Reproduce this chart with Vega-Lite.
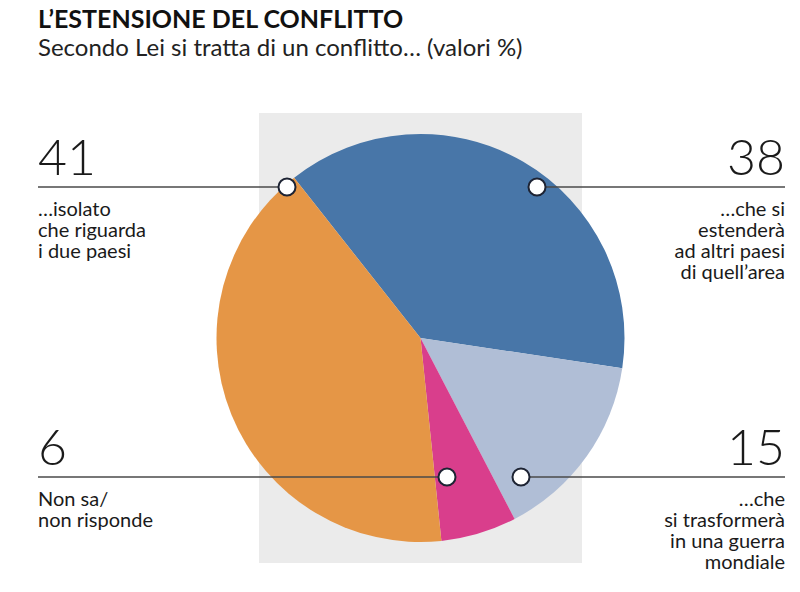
{
  "$schema": "https://vega.github.io/schema/vega-lite/v6.json",
  "autosize": "none",
  "width": 323,
  "height": 450,
  "padding": {"left": 259, "top": 113, "right": 218, "bottom": 29},
  "background": "white",
  "title": {
    "text": "L’ESTENSIONE DEL CONFLITTO",
    "subtitle": "Secondo Lei si tratta di un conflitto… (valori %)",
    "anchor": "start",
    "frame": "group",
    "dx": -221,
    "offset": 52,
    "font": "Lato",
    "fontSize": 25,
    "fontWeight": "bold",
    "color": "#111111",
    "subtitleFont": "Lato",
    "subtitleFontSize": 24,
    "subtitleColor": "#222222",
    "subtitlePadding": 4
  },
  "data": {
    "values": [
      {"risposta": "…che si estenderà ad altri paesi di quell’area", "valore": 38, "ordine": 1, "lato": "destra", "livello": "alto", "etichetta": "…che si\nestenderà\nad altri paesi\ndi quell’area"},
      {"risposta": "…che si trasformerà in una guerra mondiale", "valore": 15, "ordine": 2, "lato": "destra", "livello": "basso", "etichetta": "…che\nsi trasformerà\nin una guerra\nmondiale"},
      {"risposta": "Non sa/non risponde", "valore": 6, "ordine": 3, "lato": "sinistra", "livello": "basso", "etichetta": "Non sa/\nnon risponde"},
      {"risposta": "…isolato che riguarda i due paesi", "valore": 41, "ordine": 4, "lato": "sinistra", "livello": "alto", "etichetta": "…isolato\nche riguarda\ni due paesi"}
    ]
  },
  "layer": [
    {
      "mark": {"type": "arc", "radius": 204, "stroke": null},
      "encoding": {
        "theta": {"field": "valore", "type": "quantitative", "stack": true, "scale": {"range": [-0.668, 5.615]}},
        "order": {"field": "ordine", "type": "quantitative"},
        "color": {
          "field": "risposta", "type": "nominal", "legend": null,
          "scale": {
            "domain": ["…che si estenderà ad altri paesi di quell’area", "…che si trasformerà in una guerra mondiale", "Non sa/non risponde", "…isolato che riguarda i due paesi"],
            "range": ["#4876a8", "#b0bed6", "#d93e8c", "#e59646"]
          }
        }
      }
    },
    {
      "transform": [{"filter": "datum.lato === 'sinistra'"}],
      "mark": {"type": "rule", "color": "#4a4a4a", "strokeWidth": 1.4},
      "encoding": {
        "x": {"field": "valore", "type": "quantitative", "scale": {"domain": [0, 6, 15, 38, 41, 100], "range": [-221, 188, 262, 278, 28, 526], "nice": false, "zero": false}},
        "x2": {"datum": 0},
        "y": {"field": "livello", "type": "nominal", "scale": {"type": "point", "domain": ["alto", "basso"], "range": [74, 364], "padding": 0}}
      }
    },
    {
      "transform": [{"filter": "datum.lato === 'destra'"}],
      "mark": {"type": "rule", "color": "#4a4a4a", "strokeWidth": 1.4},
      "encoding": {
        "x": {"field": "valore", "type": "quantitative"},
        "x2": {"datum": 100},
        "y": {"field": "livello", "type": "nominal"}
      }
    },
    {
      "mark": {"type": "point", "shape": "circle", "filled": true, "fill": "white", "stroke": "#1d2333", "strokeWidth": 2, "size": 290, "opacity": 1},
      "encoding": {
        "x": {"field": "valore", "type": "quantitative"},
        "y": {"field": "livello", "type": "nominal"}
      }
    },
    {
      "transform": [{"filter": "datum.lato === 'sinistra'"}],
      "mark": {"type": "text", "align": "left", "baseline": "alphabetic", "dy": -12.5, "font": "Lato", "fontSize": 50, "fontWeight": 300, "color": "#1a1a1a"},
      "encoding": {
        "x": {"datum": 0, "type": "quantitative"},
        "y": {"field": "livello", "type": "nominal"},
        "text": {"field": "valore", "type": "quantitative"}
      }
    },
    {
      "transform": [{"filter": "datum.lato === 'destra'"}],
      "mark": {"type": "text", "align": "right", "baseline": "alphabetic", "dy": -12.5, "font": "Lato", "fontSize": 50, "fontWeight": 300, "color": "#1a1a1a"},
      "encoding": {
        "x": {"datum": 100, "type": "quantitative"},
        "y": {"field": "livello", "type": "nominal"},
        "text": {"field": "valore", "type": "quantitative"}
      }
    },
    {
      "transform": [{"filter": "datum.lato === 'sinistra'"}],
      "mark": {"type": "text", "align": "left", "baseline": "alphabetic", "dy": 29, "lineBreak": "\n", "lineHeight": 21, "font": "Lato", "fontSize": 20, "color": "#1a1a1a"},
      "encoding": {
        "x": {"datum": 0, "type": "quantitative"},
        "y": {"field": "livello", "type": "nominal"},
        "text": {"field": "etichetta", "type": "nominal"}
      }
    },
    {
      "transform": [{"filter": "datum.lato === 'destra'"}],
      "mark": {"type": "text", "align": "right", "baseline": "alphabetic", "dy": 29, "lineBreak": "\n", "lineHeight": 21, "font": "Lato", "fontSize": 20, "color": "#1a1a1a"},
      "encoding": {
        "x": {"datum": 100, "type": "quantitative"},
        "y": {"field": "livello", "type": "nominal"},
        "text": {"field": "etichetta", "type": "nominal"}
      }
    }
  ],
  "config": {
    "view": {"fill": "#ebebeb", "stroke": null},
    "axis": {"disable": true}
  }
}
